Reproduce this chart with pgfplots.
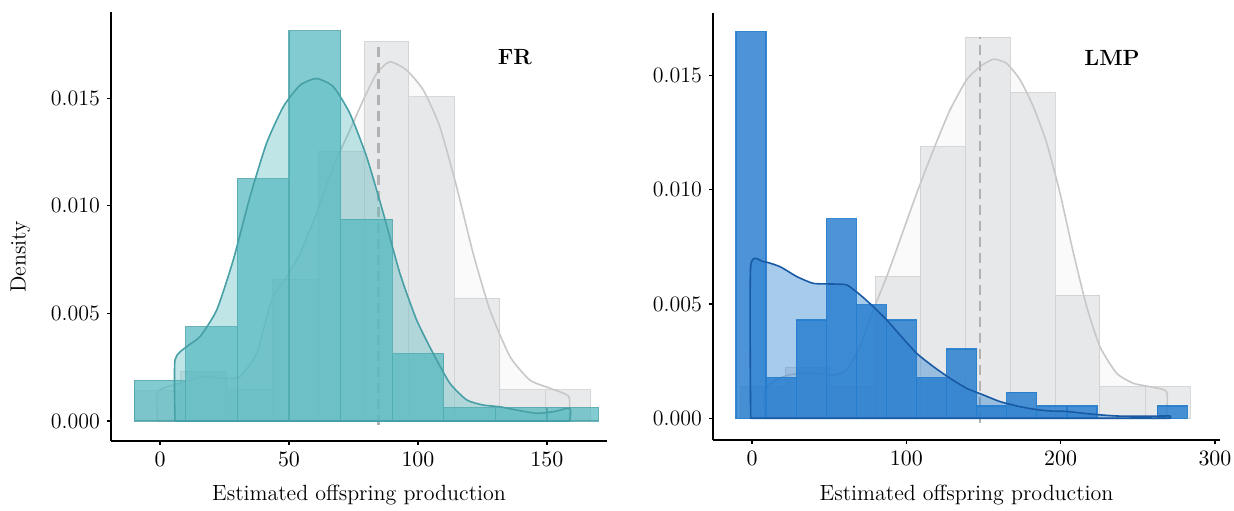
\documentclass[border=0pt]{standalone}
\usepackage{pgfplots}
\pgfplotsset{compat=1.18}
\definecolor{teal1}{RGB}{88,186,192}
\definecolor{teal2}{RGB}{70,160,166}
\definecolor{blue1}{RGB}{36,124,206}
\definecolor{blue2}{RGB}{25,90,165}
\definecolor{gbar}{RGB}{212,214,217}
\definecolor{gedge}{RGB}{200,202,205}
\definecolor{gline}{RGB}{200,200,200}
\begin{document}
\begin{tikzpicture}
\pgfplotsset{
  common/.style={
    scale only axis,
    axis x line*=bottom, axis y line*=left,
    axis line style={-, line width=1pt, black},
    tick align=outside, major tick length=2pt,
    tick style={black, line width=0.6pt},
    x tick label as interval=false,
    scaled y ticks=false, scaled x ticks=false,
    ytick={0,0.005,0.01,0.015},
    yticklabels={0.000,0.005,0.010,0.015},
    tick label style={font=\fontsize{11}{13}\selectfont},
    label style={font=\fontsize{11}{13}\selectfont},
    xlabel={Estimated offspring production},
    clip=false,
  },
  gbars/.style={ybar interval, fill=gbar, fill opacity=0.5, draw=gedge, draw opacity=0.7, line width=0.5pt},
  gcurve/.style={smooth, tension=0.35, fill=gray!30, fill opacity=0.12, draw=gline, line width=0.8pt, line join=round},
  gdash/.style={draw=gray!60, line width=1.3pt, dash pattern=on 5pt off 3pt},
}
% ---------------- FR ----------------
\begin{axis}[common,
  at={(55.5pt,34.5pt)}, width=248pt, height=214.5pt,
  xmin=-19, xmax=173.3, ymin=-0.00093, ymax=0.019,
  xtick={0,50,100,150},
  ylabel={Density},
  ylabel style={at={(axis description cs:-0.183,0.429)}, anchor=center, rotate=0},
  xlabel style={at={(axis description cs:0.5,-0.126)}, anchor=center},
]
\addplot[gbars] coordinates {(-9.7,0.0014) (8.1,0.00232) (25.8,0.00144) (43.5,0.00658) (61.4,0.0125) (79.1,0.01762) (96.5,0.01506) (114.1,0.0057) (131.8,0.00144) (149.5,0.00144) (167,0)};
\addplot[gcurve] coordinates {(-0.9,0) (-0.9,0.00136) (7.75,0.00175) (16.8,0.00206) (25.8,0.00198) (31.0,0.00206) (37.5,0.00314) (43.3,0.00562) (49.1,0.0067) (54.3,0.00779) (60.7,0.00964) (67.2,0.01181) (73.6,0.01351) (78.8,0.01491) (84.0,0.01615) (89.1,0.01669) (95.6,0.0163) (102.1,0.01537) (108.5,0.01367) (115.0,0.01088) (121.4,0.00779) (127.9,0.00516) (135.7,0.00299) (143.4,0.0019) (151.2,0.00152) (158.5,0.00113) (158.5,0)} -- cycle;
\addplot[gdash] coordinates {(84.6,-0.0002) (84.6,0.01762)};
\addplot[ybar interval, fill=teal1, fill opacity=0.75, draw=teal2, draw opacity=0.8, line width=0.6pt] coordinates {(-10,0.001875) (10,0.004375) (30,0.01125) (50,0.018125) (70,0.009375) (90,0.003125) (110,0.000625) (130,0.000625) (150,0.000625) (170,0)};
\addplot[smooth, tension=0.35, fill=teal1, fill opacity=0.38, draw=teal2, line width=0.8pt, line join=round] coordinates {(5.8,0) (5.8,0.00283) (10.3,0.00345) (15.5,0.00392) (22.0,0.00516) (28.4,0.00748) (34.9,0.01042) (41.3,0.0129) (47.8,0.0146) (54.3,0.0156) (60.7,0.01591) (67.2,0.01553) (73.6,0.01429) (80.1,0.01228) (86.6,0.00964) (93.0,0.00686) (99.5,0.00469) (105.9,0.00314) (112.4,0.00175) (118.9,0.00098) (125.3,0.00074) (131.8,0.00066) (138.2,0.00051) (146.0,0.00036) (152.5,0.00043) (158.9,0.00059) (158.9,0)} -- cycle;
\node[font=\fontsize{11}{13}\selectfont\bfseries] at (axis cs:137.6,0.0169) {FR};
\end{axis}
% ---------------- LMP ----------------
\begin{axis}[common,
  at={(356.5pt,35pt)}, width=253.5pt, height=213.5pt,
  xmin=-25.3, xmax=303.3, ymin=-0.00095, ymax=0.01772,
  xtick={0,100,200,300},
  xlabel style={at={(axis description cs:0.5,-0.129)}, anchor=center},
]
\addplot[gbars] coordinates {(-7.8,0.00138) (21.4,0.00221) (50.5,0.00138) (79.7,0.00622) (108.9,0.01188) (138.5,0.01666) (167.6,0.01424) (196.4,0.00539) (225.5,0.00138) (254.7,0.00138) (283.9,0)};
\addplot[gcurve] coordinates {(8.4,0) (8.4,0.00131) (20.3,0.00182) (31.1,0.00197) (41.9,0.00197) (52.7,0.00189) (61.4,0.00211) (70.0,0.00313) (78.6,0.00474) (87.3,0.0062) (95.9,0.0078) (106.7,0.00984) (117.5,0.01173) (128.3,0.01348) (139.1,0.0148) (147.8,0.01538) (156.4,0.0157) (165.0,0.01552) (173.7,0.0148) (182.3,0.01363) (191.0,0.01203) (199.6,0.00984) (208.3,0.00722) (216.9,0.00488) (225.5,0.00313) (236.3,0.00197) (247.1,0.00153) (257.9,0.00138) (268.7,0.00116) (268.7,0)} -- cycle;
\addplot[gdash] coordinates {(147.8,-0.0002) (147.8,0.01666)};
\addplot[ybar interval, fill=blue1, fill opacity=0.82, draw=blue1, draw opacity=0.9, line width=0.6pt] coordinates {(-10.4,0.01691) (9.1,0.00178) (28.6,0.0043) (48.1,0.00872) (67.6,0.00496) (87.1,0.0043) (106.6,0.00178) (126.1,0.00303) (145.6,0.00054) (165.1,0.00114) (184.6,0.00054) (204.1,0.00054) (223.6,0) (243.1,0) (262.6,0.00054) (282.1,0)};
\addplot[smooth, tension=0.35, fill=blue1, fill opacity=0.4, draw=blue2, line width=0.8pt, line join=round] coordinates {(-0.9,0) (-0.9,0.00663) (7.3,0.00685) (18.1,0.00663) (28.9,0.0062) (39.7,0.0059) (52.7,0.00587) (61.4,0.00583) (70.0,0.0054) (78.6,0.00488) (87.3,0.0043) (95.9,0.00364) (106.7,0.00284) (117.5,0.00226) (128.3,0.00175) (139.1,0.00131) (149.9,0.00102) (160.7,0.00073) (171.5,0.00054) (182.3,0.0004) (193.1,0.00032) (203.9,0.0003) (214.7,0.00022) (225.5,0.00015) (236.3,0.0001) (247.1,0.00009) (257.9,0.00009) (270.9,0.0001) (270.9,0)} -- cycle;
\node[font=\fontsize{11}{13}\selectfont\bfseries] at (axis cs:233.3,0.01576) {LMP};
\end{axis}
\pgfresetboundingbox
\path[use as bounding box] (0,0) rectangle (617pt,255pt);
\end{tikzpicture}
\end{document}
